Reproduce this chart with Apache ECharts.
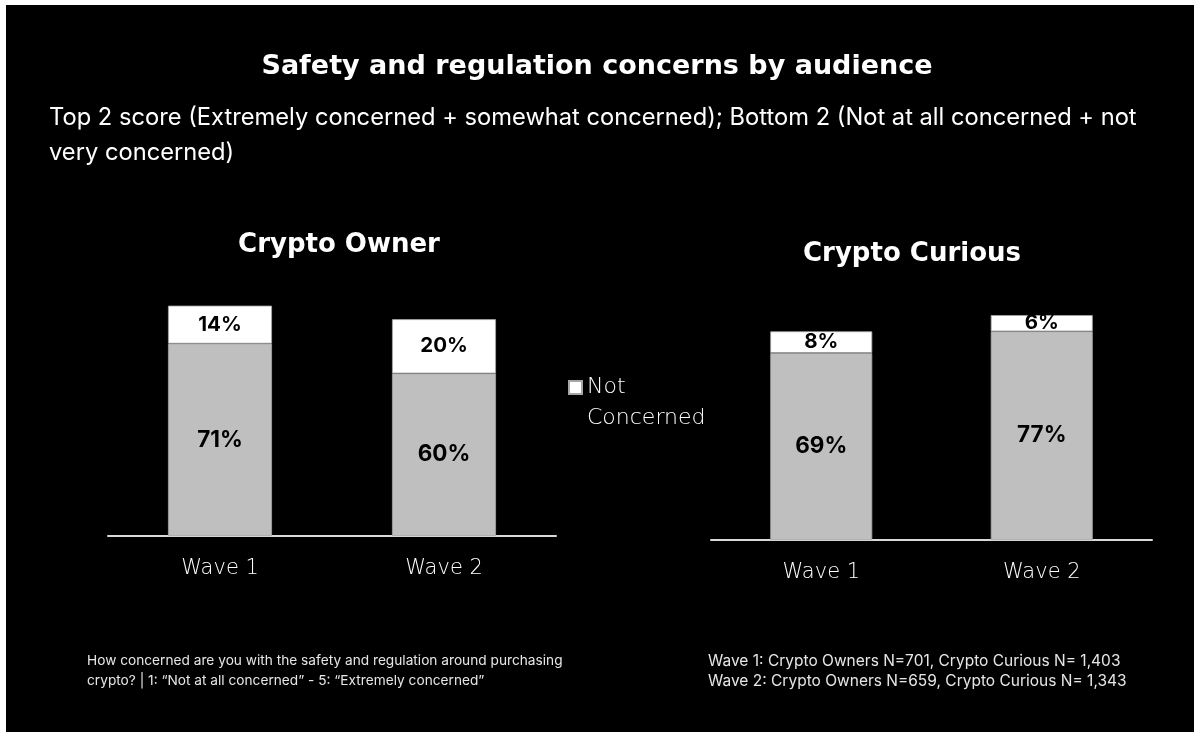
<!DOCTYPE html>
<html>
<head>
<meta charset="utf-8">
<script src="https://cdn.jsdelivr.net/npm/echarts@6/dist/echarts.min.js"></script>
<style>
  html, body { margin: 0; padding: 0; background: #fff; }
  #chart { width: 1194px; height: 732px; }
</style>
</head>
<body>
<div id="chart"></div>
<script>
// Survey waves shown on each panel
const waves = ['Wave 1', 'Wave 2'];

// Crypto Owner: Top 2 (concerned) and Bottom 2 (not concerned), in %
const ownerConcerned = [71, 60];
const ownerNotConcerned = [14, 20];

// Crypto Curious: Top 2 (concerned) and Bottom 2 (not concerned), in %
const curiousConcerned = [69, 77];
const curiousNotConcerned = [8, 6];

const BOLD_FONT = '"DejaVu Sans", sans-serif';
const TEXT_FONT = 'Inter, "Liberation Sans", sans-serif';
const LIGHT_FONT = '"DejaVu Sans", sans-serif';
const GREY = '#bfbfbf';

const chart = echarts.init(document.getElementById('chart'));

function barLabel(size) {
  return {
    show: true,
    position: 'inside',
    formatter: '{c}%',
    color: '#000',
    fontFamily: TEXT_FONT,
    fontWeight: 'bold',
    fontSize: size
  };
}

function xAxis(gridIndex) {
  return {
    type: 'category',
    gridIndex: gridIndex,
    data: waves,
    axisTick: { show: false },
    axisLine: { lineStyle: { color: '#d9d9d9', width: 2 } },
    axisLabel: { color: '#fff', fontFamily: LIGHT_FONT, fontWeight: 200, fontSize: 21, margin: 22 }
  };
}

function yAxis(gridIndex) {
  return { type: 'value', gridIndex: gridIndex, min: 0, max: 100, show: false };
}

chart.setOption({
  backgroundColor: '#000',
  animation: false,
  title: [
    {
      text: 'Safety and regulation concerns by audience',
      left: 'center', top: 48,
      textStyle: { color: '#fff', fontFamily: BOLD_FONT, fontWeight: 'bold', fontSize: 27 }
    },
    {
      text: 'Top 2 score (Extremely concerned + somewhat concerned); Bottom 2 (Not at all concerned + not\nvery concerned)',
      left: 44, top: 95,
      textStyle: { color: '#fff', fontFamily: TEXT_FONT, fontWeight: 'normal', fontSize: 23.7, lineHeight: 35 }
    },
    {
      text: 'Crypto Owner',
      left: 334, top: 227, textAlign: 'center',
      textStyle: { color: '#fff', fontFamily: BOLD_FONT, fontWeight: 'bold', fontSize: 26 }
    },
    {
      text: 'Crypto Curious',
      left: 907, top: 236, textAlign: 'center',
      textStyle: { color: '#fff', fontFamily: BOLD_FONT, fontWeight: 'bold', fontSize: 26 }
    },
    {
      text: 'How concerned are you with the safety and regulation around purchasing\ncrypto? | 1: \u201cNot at all concerned\u201d - 5: \u201cExtremely concerned\u201d',
      left: 82, top: 646,
      textStyle: { color: '#e6e6e6', fontFamily: TEXT_FONT, fontWeight: 'normal', fontSize: 13.7, lineHeight: 20 }
    },
    {
      text: 'Wave 1: Crypto Owners N=701, Crypto Curious N= 1,403\nWave 2: Crypto Owners N=659, Crypto Curious N= 1,343',
      left: 703, top: 646,
      textStyle: { color: '#e6e6e6', fontFamily: TEXT_FONT, fontWeight: 'normal', fontSize: 15.5, lineHeight: 20 }
    }
  ],
  legend: {
    data: ['Not Concerned'],
    left: 568, top: 341,
    padding: 0,
    orient: 'vertical',
    icon: 'rect',
    itemWidth: 13, itemHeight: 13,
    // blank first line keeps the square level with "Not"
    formatter: function () { return ' \nNot\nConcerned'; },
    textStyle: { color: '#fff', fontFamily: LIGHT_FONT, fontWeight: 200, fontSize: 22, lineHeight: 31 }
  },
  grid: [
    { left: 108, width: 448, top: 265, height: 271 },
    { left: 711, width: 441, top: 269, height: 271 }
  ],
  xAxis: [xAxis(0), xAxis(1)],
  yAxis: [yAxis(0), yAxis(1)],
  series: [
    {
      name: 'Concerned', type: 'bar', stack: 'owner', xAxisIndex: 0, yAxisIndex: 0,
      barWidth: 104, data: ownerConcerned,
      itemStyle: { color: GREY, borderColor: '#a6a6a6', borderWidth: 0.8 },
      label: barLabel(22.5)
    },
    {
      name: 'Not Concerned', type: 'bar', stack: 'owner', xAxisIndex: 0, yAxisIndex: 0,
      barWidth: 104, data: ownerNotConcerned,
      itemStyle: { color: '#fff', borderColor: '#a6a6a6', borderWidth: 0.8 },
      label: barLabel(20.5)
    },
    {
      name: 'Concerned', type: 'bar', stack: 'curious', xAxisIndex: 1, yAxisIndex: 1,
      barWidth: 102, data: curiousConcerned,
      itemStyle: { color: GREY, borderColor: '#a6a6a6', borderWidth: 0.8 },
      label: barLabel(22.5)
    },
    {
      name: 'Not Concerned', type: 'bar', stack: 'curious', xAxisIndex: 1, yAxisIndex: 1,
      barWidth: 102, data: curiousNotConcerned,
      itemStyle: { color: '#fff', borderColor: '#a6a6a6', borderWidth: 0.8 },
      label: barLabel(20.5)
    }
  ],
  graphic: [
    // thin white strips along the top and left edges of the slide
    { type: 'rect', left: 0, top: 0, shape: { width: 1194, height: 5 }, style: { fill: '#fff' }, silent: true },
    { type: 'rect', left: 0, top: 0, shape: { width: 6, height: 732 }, style: { fill: '#fff' }, silent: true }
  ]
});
</script>
</body>
</html>
